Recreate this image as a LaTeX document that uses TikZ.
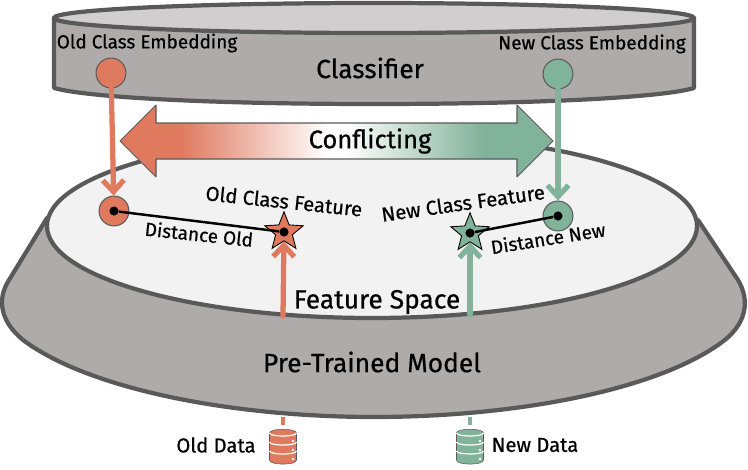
\documentclass[tikz,border=0pt]{standalone}
\usepackage{fontspec}
\setmainfont{Fira Sans}
\newfontfamily\labfont[FakeBold=0.6]{Fira Sans}
\usepackage{tikz}
\usetikzlibrary{positioning,arrows.meta,calc,shapes.geometric}
\definecolor{oldc}{HTML}{E07A5F}
\definecolor{newc}{HTML}{81B29A}
\definecolor{edgec}{HTML}{595959}
\definecolor{bodyc}{HTML}{AFABAB}
\definecolor{lidc}{HTML}{D0CECE}
\definecolor{spacec}{HTML}{F2F2F2}
\pgfdeclarehorizontalshading{conflictshade}{100bp}{
rgb(0bp)=(0.878,0.478,0.373);
rgb(32bp)=(0.878,0.478,0.373);
rgb(49bp)=(1,1,1);
rgb(51bp)=(1,1,1);
rgb(67bp)=(0.506,0.698,0.604);
rgb(100bp)=(0.506,0.698,0.604)}
\tikzset{
bodyline/.style={draw=edgec,line width=2.4pt,line join=round},
embed/.style={circle,draw=edgec,line width=0.6pt,minimum size=17pt,inner sep=0pt},
star5/.style={star,star points=5,star point ratio=2.3,draw=black,line width=0.5pt,minimum size=23pt,inner sep=0pt},
dotc/.style={circle,fill=black,minimum size=5.2pt,inner sep=0pt},
flow/.style={line width=3pt,-{Straight Barb[length=6.5pt,width=12pt,line width=3pt]},line cap=round},
stub/.style={line width=2.8pt},
dist/.style={black,line width=1.4pt},
lab/.style={font=\labfont\fontsize{10.8}{12}\selectfont,inner sep=0pt},
feat/.style={font=\labfont\fontsize{11.5}{13}\selectfont,inner sep=0pt},
biglab/.style={font=\labfont\fontsize{15}{17}\selectfont,inner sep=0pt},
dbline/.style={draw=white,line width=0.7pt},
}
\begin{document}
\begin{tikzpicture}[x=0.02cm,y=-0.02cm]
\useasboundingbox (0,0) rectangle (748,470);
% model and feature space
\draw[bodyline,fill=bodyc] (47,218) -- (9,280) .. controls (-4,300) and (0,325) .. (30,345)
.. controls (100,392) and (240,417) .. (374,417)
.. controls (510,417) and (650,392) .. (718,345)
.. controls (748,325) and (750,300) .. (738,280) -- (698,220) -- cycle;
\draw[bodyline,fill=spacec] (372,226) ellipse (325 and 92);
% classifier
\draw[bodyline,fill=bodyc] (54,18) -- (54,88) .. controls (90,98) and (220,104) .. (374,104)
.. controls (530,104) and (660,98) .. (694,88) -- (694,18) -- cycle;
\draw[bodyline,fill=lidc] (374,18) ellipse (320 and 15);
% conflict arrow
\shade[shading=conflictshade] (120,141) -- (156,105) -- (156,123) -- (517,123) -- (517,105) -- (553,141) -- (517,177) -- (517,159) -- (156,159) -- (156,177) -- cycle;
\draw[edgec,line width=0.6pt,line join=round] (120,141) -- (156,105) -- (156,123) -- (517,123) -- (517,105) -- (553,141) -- (517,177) -- (517,159) -- (156,159) -- (156,177) -- cycle;
% embeddings and features
\node[embed,fill=oldc] (oldemb) at (111,73) {};
\node[embed,fill=newc] (newemb) at (558,74) {};
\node[embed,fill=oldc] (oldproto) at (114,211) {};
\node[embed,fill=newc] (newproto) at (558,216) {};
\node[star5,fill=oldc] (oldstar) at (284,232) {};
\node[star5,fill=newc] (newstar) at (470,233) {};
\node[dotc] (olddot) at (oldproto.center) {};
\node[dotc] (newdot) at (newproto.center) {};
\node[dotc] (oldsdot) at (oldstar.center) {};
\node[dotc] (newsdot) at (newstar.center) {};
\draw[dist] (olddot) -- (oldsdot);
\draw[dist] (newdot) -- (newsdot);
% data stacks
\foreach \px/\pc in {283/oldc,470/newc}{
\draw[fill=\pc,draw=edgec,line width=0.3pt] (\px-13.5,433) .. controls (\px-13.5,428) and (\px+13.5,428) .. (\px+13.5,433) -- (\px+13.5,460) .. controls (\px+13.5,465.5) and (\px-13.5,465.5) .. (\px-13.5,460) -- cycle;
\foreach \py in {433,442,451}{
\draw[dbline] (\px-13.5,\py) .. controls (\px-13.5,\py+4) and (\px+13.5,\py+4) .. (\px+13.5,\py);
\fill[white] (\px+10,\py+8) circle (1.3);
}}
\coordinate (oldout) at (283,316);
\coordinate (newout) at (470,315);
\coordinate (oldin) at (283,417);
\coordinate (newin) at (470,417);
\coordinate (olddb) at (283,425);
\coordinate (newdb) at (470,425);
\draw[stub,oldc] (olddb) -- (oldin);
\draw[stub,newc] (newdb) -- (newin);
\draw[flow,oldc] (oldemb) -- (oldproto);
\draw[flow,newc] (newemb) -- (newproto);
\draw[flow,oldc] (oldout) -- (oldstar);
\draw[flow,newc] (newout) -- (newstar);
% labels
\node[lab] (oldemblab) at (147,43) {Old Class Embedding};
\node[lab] (newemblab) at (592,44) {New Class Embedding};
\node[biglab] (clslab) at (370,68) {Classifier};
\node[biglab,font=\labfont\fontsize{14.5}{17}\selectfont] (conflab) at (370,141) {Conflicting};
\node[feat,rotate=-6] (oldfeat) at (284,201) {Old Class Feature};
\node[feat,rotate=8] (newfeat) at (463,203) {New Class Feature};
\node[lab,rotate=-6] (olddist) at (199,234) {Distance Old};
\node[lab,rotate=9] (newdist) at (548,238) {Distance New};
\node[biglab] (spacelab) at (377,302) {Feature Space};
\node[biglab] (modellab) at (372,362) {Pre-Trained Model};
\node[feat] (olddata) at (216,445) {Old Data};
\node[feat] (newdata) at (535,445) {New Data};
\end{tikzpicture}
\end{document}
